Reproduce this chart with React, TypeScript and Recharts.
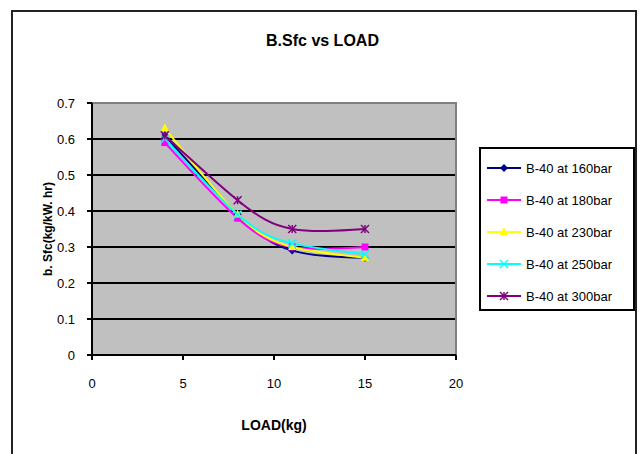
import React from "react";
import {
  LineChart,
  Line,
  XAxis,
  YAxis,
  CartesianGrid,
  ReferenceArea,
} from "recharts";

const loads = [4, 8, 11, 15];
const b160 = [0.61, 0.39, 0.29, 0.27];
const b180 = [0.59, 0.38, 0.3, 0.3];
const b230 = [0.63, 0.39, 0.3, 0.27];
const b250 = [0.6, 0.39, 0.31, 0.28];
const b300 = [0.61, 0.43, 0.35, 0.35];

const xTicks = [0, 5, 10, 15, 20];
const yTicks = [0, 0.1, 0.2, 0.3, 0.4, 0.5, 0.6, 0.7];

const seriesNames = [
  "B-40 at 160bar",
  "B-40 at 180bar",
  "B-40 at 230bar",
  "B-40 at 250bar",
  "B-40 at 300bar",
];
const seriesKeys = ["b160", "b180", "b230", "b250", "b300"];
const seriesColors = ["#000080", "#ff00ff", "#ffff00", "#00ffff", "#800080"];
const seriesShapes = ["diamond", "square", "triangle", "x", "star"];

const data = loads.map((l, i) => ({
  load: l,
  b160: b160[i],
  b180: b180[i],
  b230: b230[i],
  b250: b250[i],
  b300: b300[i],
}));

const FONT = "'Liberation Sans', Arial, sans-serif";

function Marker({ cx, cy, shape, color }: any) {
  if (cx == null || cy == null) return null;
  const s = 4;
  switch (shape) {
    case "diamond":
      return (
        <polygon
          points={`${cx},${cy - s} ${cx + s},${cy} ${cx},${cy + s} ${cx - s},${cy}`}
          fill={color}
        />
      );
    case "square":
      return <rect x={cx - s + 0.5} y={cy - s + 0.5} width={2 * s - 1} height={2 * s - 1} fill={color} />;
    case "triangle":
      return (
        <polygon
          points={`${cx},${cy - s - 1} ${cx + s},${cy + s - 1} ${cx - s},${cy + s - 1}`}
          fill={color}
        />
      );
    case "x":
      return (
        <g stroke={color} strokeWidth={1.5}>
          <line x1={cx - s} y1={cy - s} x2={cx + s} y2={cy + s} />
          <line x1={cx - s} y1={cy + s} x2={cx + s} y2={cy - s} />
        </g>
      );
    case "star":
      return (
        <g stroke={color} strokeWidth={1.5}>
          <line x1={cx - s} y1={cy - s} x2={cx + s} y2={cy + s} />
          <line x1={cx - s} y1={cy + s} x2={cx + s} y2={cy - s} />
          <line x1={cx} y1={cy - s} x2={cx} y2={cy + s} />
        </g>
      );
    default:
      return null;
  }
}

function LegendBox() {
  return (
    <div
      style={{
        position: "absolute",
        left: 479,
        top: 147,
        width: 156,
        height: 164,
        border: "2px solid #000",
        boxSizing: "border-box",
        background: "#fff",
        fontFamily: FONT,
        fontSize: 13,
        color: "#000",
        paddingTop: 3,
      }}
    >
      {seriesNames.map((name, i) => (
        <div
          key={name}
          style={{ display: "flex", alignItems: "center", height: 32 }}
        >
          <svg width={40} height={12} style={{ marginLeft: 4 }}>
            <line x1={2} y1={6} x2={36} y2={6} stroke={seriesColors[i]} strokeWidth={2} />
            <Marker cx={19} cy={6} shape={seriesShapes[i]} color={seriesColors[i]} />
          </svg>
          <span style={{ marginLeft: 1, whiteSpace: "nowrap" }}>{name}</span>
        </div>
      ))}
    </div>
  );
}

export default function App() {
  return (
    <div
      style={{
        position: "absolute",
        left: 0,
        top: 0,
        width: 639,
        height: 454,
        background: "#fff",
        overflow: "hidden",
      }}
    >
      <div
        style={{
          position: "absolute",
          left: 11,
          top: 10,
          width: 626,
          height: 470,
          border: "2px solid #222",
          boxSizing: "border-box",
        }}
      />
      <div
        style={{
          position: "absolute",
          left: 0,
          top: 32,
          width: 645,
          textAlign: "center",
          fontFamily: FONT,
          fontWeight: "bold",
          fontSize: 16,
          color: "#000",
        }}
      >
        B.Sfc vs LOAD
      </div>
      <div style={{ position: "absolute", left: 0, top: 0 }}>
        <LineChart
          width={639}
          height={454}
          data={data}
          margin={{ top: 103, right: 183, bottom: 69, left: 32 }}
        >
          <CartesianGrid
            vertical={false}
            horizontalValues={[0.1, 0.2, 0.3, 0.4, 0.5, 0.6]}
            stroke="#000"
            strokeWidth={2}
            fill="#c0c0c0"
          />
          <ReferenceArea
            x1={0}
            x2={20}
            y1={0}
            y2={0.7}
            fill="none"
            fillOpacity={0}
            stroke="#808080"
            strokeWidth={2}
            ifOverflow="visible"
          />
          <XAxis
            type="number"
            dataKey="load"
            domain={[0, 20]}
            ticks={xTicks}
            interval={0}
            height={30}
            stroke="#000"
            strokeWidth={2}
            tickSize={5}
            tick={{ fill: "#000", fontSize: 13, fontFamily: FONT }}
            tickMargin={19}
            label={{
              value: "LOAD(kg)",
              position: "insideBottom",
              offset: -45,
              fill: "#000",
              fontSize: 14,
              fontWeight: "bold",
              fontFamily: FONT,
            }}
          />
          <YAxis
            type="number"
            domain={[0, 0.7]}
            ticks={yTicks}
            interval={0}
            width={60}
            stroke="#000"
            strokeWidth={2}
            tickSize={5}
            tickMargin={12}
            tick={{ fill: "#000", fontSize: 13, fontFamily: FONT }}
            label={{
              value: "b. Sfc(kg/kW. hr)",
              angle: -90,
              position: "insideLeft",
              offset: 16,
              style: { textAnchor: "middle" },
              fill: "#000",
              fontSize: 12,
              fontWeight: "bold",
              fontFamily: FONT,
            }}
          />
          {seriesKeys.map((k, i) => (
            <Line
              key={k}
              type="natural"
              dataKey={k}
              name={seriesNames[i]}
              stroke={seriesColors[i]}
              strokeWidth={2}
              isAnimationActive={false}
              dot={(p: any) => (
                <Marker
                  key={`${k}-${p.index}`}
                  cx={p.cx}
                  cy={p.cy}
                  shape={seriesShapes[i]}
                  color={seriesColors[i]}
                />
              )}
              activeDot={false}
            />
          ))}
        </LineChart>
      </div>
      <LegendBox />
    </div>
  );
}
